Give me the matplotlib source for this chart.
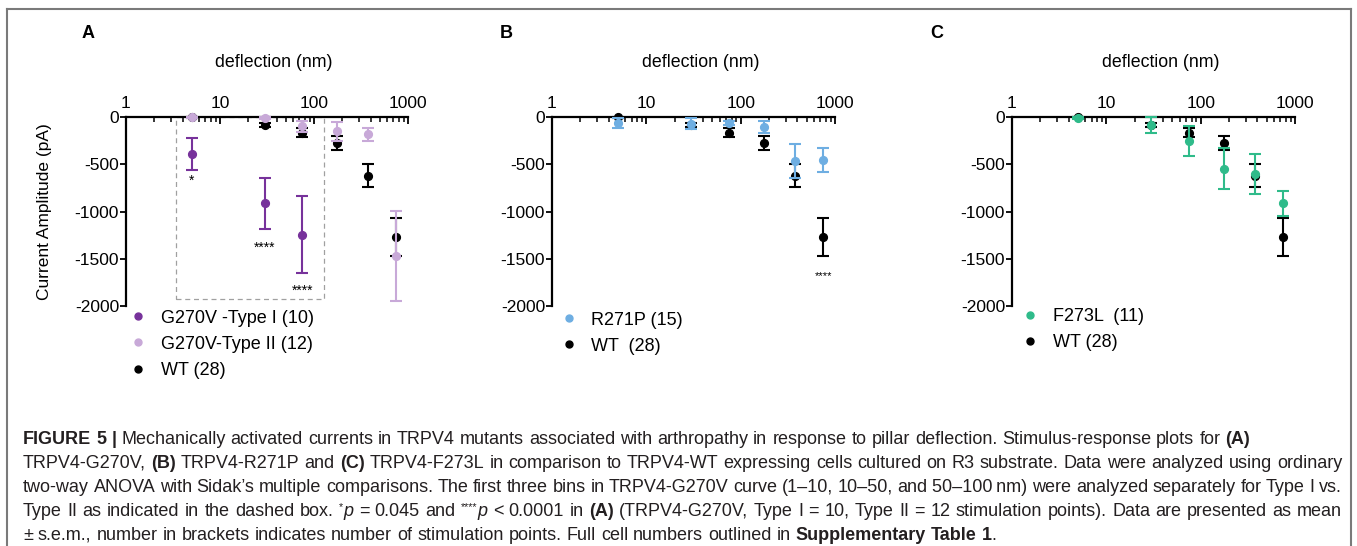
import matplotlib
matplotlib.use('Agg')
import matplotlib.pyplot as plt
from matplotlib.lines import Line2D
from matplotlib.patches import Rectangle
from matplotlib.ticker import LogLocator, NullFormatter
from matplotlib import font_manager

# ---- data ----
deflection = [5, 30, 75, 175, 375, 750]

wt_mean = [-5, -85, -165, -275, -620, -1270]
wt_sem = [10, 20, 50, 75, 120, 200]

g270v_t1_x = [5, 30, 75]
g270v_t1_mean = [-390, -915, -1245]
g270v_t1_sem = [170, 270, 405]

g270v_t2_mean = [-3, -8, -100, -150, -185, -1470]
g270v_t2_sem = [8, 8, 60, 100, 70, 480]

r271p_mean = [-65, -70, -63, -105, -470, -455]
r271p_sem = [55, 55, 20, 60, 180, 130]

f273l_mean = [-10, -85, -250, -545, -600, -915]
f273l_sem = [10, 80, 160, 215, 210, 135]

x_ticks = [1, 10, 100, 1000]
x_ticklabels = ['1', '10', '100', '1000']
y_ticks = [0, -500, -1000, -1500, -2000]
y_ticklabels = ['0', '-500', '-1000', '-1500', '-2000']

legend_a = ['G270V -Type I (10)', 'G270V-Type II (12)', 'WT (28)']
legend_b = ['R271P (15)', 'WT  (28)']
legend_c = ['F273L  (11)', 'WT (28)']

C_T1 = '#77329b'
C_T2 = '#c8a9d8'
C_R = '#6eaee2'
C_F = '#2fbb8a'
C_WT = 'black'

plt.rcParams['font.family'] = ['Liberation Sans', 'DejaVu Sans']
plt.rcParams['axes.unicode_minus'] = False

names = {f.name for f in font_manager.fontManager.ttflist}
cap_font = 'Liberation Sans Narrow' if 'Liberation Sans Narrow' in names else 'Liberation Sans'

W, H = 1357, 546
fig = plt.figure(figsize=(W / 100, H / 100), dpi=100)


def px_axes(left, right, top, bottom):
    return fig.add_axes([left / W, 1 - bottom / H, (right - left) / W, (bottom - top) / H])


def style_axes(ax):
    ax.set_xscale('log')
    ax.set_xlim(1, 1000)
    ax.set_ylim(-2000, 0)
    ax.xaxis.tick_top()
    ax.set_xticks(x_ticks, x_ticklabels)
    ax.xaxis.set_minor_locator(LogLocator(base=10, subs=range(2, 10)))
    ax.xaxis.set_minor_formatter(NullFormatter())
    ax.set_yticks(y_ticks, y_ticklabels)
    for s in ['bottom', 'right']:
        ax.spines[s].set_visible(False)
    for s in ['top', 'left']:
        ax.spines[s].set_linewidth(1.6)
    ax.tick_params(axis='x', which='major', direction='in', length=5, width=1.3, pad=4, labelsize=12.5)
    ax.tick_params(axis='x', which='minor', direction='in', length=3.5, width=1.1)
    ax.tick_params(axis='y', direction='out', length=4, width=1.3, pad=1, labelsize=12.5)
    ax.patch.set_visible(False)
    ax.text(0.525, 1.286, 'deflection (nm)', transform=ax.transAxes, ha='center', va='center', fontsize=12.8)


def ebar(ax, x, y, e, color, z):
    art = ax.errorbar(x, y, yerr=e, fmt='o', color=color, ms=5.6, elinewidth=1.5,
                      capsize=4, capthick=1.5, zorder=z)
    for a in art.get_children():
        a.set_clip_on(False)
    art[0].set_clip_on(False)


def dot(color):
    return Line2D([], [], ls='none', marker='o', ms=5, color=color)


def add_legend(ax, labels, colors, x, y):
    ax.legend([dot(c) for c in colors], labels, loc='upper left', bbox_to_anchor=(x, y),
              frameon=False, fontsize=13, handlelength=0.6, handletextpad=0.95,
              labelspacing=0.5, borderpad=0, borderaxespad=0)


# ---- panel A ----
axA = px_axes(126, 408, 117, 306)
style_axes(axA)
axA.add_patch(Rectangle((3.4, -1925), 128 - 3.4, 1925, fill=False, ls=(0, (4, 3)),
                        ec='#a0a0a0', lw=0.9, zorder=1))
ebar(axA, deflection, wt_mean, wt_sem, C_WT, 3)
ebar(axA, g270v_t1_x, g270v_t1_mean, g270v_t1_sem, C_T1, 4)
ebar(axA, deflection, g270v_t2_mean, g270v_t2_sem, C_T2, 5)
axA.text(5, -680, '*', ha='center', va='center', fontsize=10)
axA.text(30, -1380, '****', ha='center', va='center', fontsize=10)
axA.text(75, -1840, '****', ha='center', va='center', fontsize=10)
axA.set_ylabel('Current Amplitude (pA)', fontsize=12.5)
axA.yaxis.set_label_coords(-0.262, 0.5)
add_legend(axA, legend_a, [C_T1, C_T2, C_WT], 0.025, -0.02)

# ---- panel B ----
axB = px_axes(552, 835, 117, 306)
style_axes(axB)
ebar(axB, deflection, wt_mean, wt_sem, C_WT, 3)
ebar(axB, deflection, r271p_mean, r271p_sem, C_R, 4)
axB.text(750, -1680, '****', ha='center', va='center', fontsize=8)
add_legend(axB, legend_b, [C_R, C_WT], 0.04, -0.03)

# ---- panel C ----
axC = px_axes(1012, 1295, 117, 306)
style_axes(axC)
ebar(axC, deflection, wt_mean, wt_sem, C_WT, 3)
ebar(axC, deflection, f273l_mean, f273l_sem, C_F, 4)
add_legend(axC, legend_c, [C_F, C_WT], 0.045, -0.01)

# panel letters
for lx, letter in [(82, 'A'), (500, 'B'), (930, 'C')]:
    fig.text(lx / W, 1 - 33 / H, letter, fontsize=13, fontweight='bold', va='center', ha='left')

# outer frame (open at the bottom)
fr = dict(color='#7a7a7a', lw=1.5, transform=fig.transFigure)
fig.add_artist(Line2D([7 / W, 7 / W], [0, 1 - 9 / H], **fr))
fig.add_artist(Line2D([7 / W, 1351 / W], [1 - 9 / H, 1 - 9 / H], **fr))
fig.add_artist(Line2D([1351 / W, 1351 / W], [0, 1 - 9 / H], **fr))

# ---- caption ----
cap_lines = [
    [("FIGURE 5 |", 'b'), (" Mechanically activated currents in TRPV4 mutants associated with arthropathy in response to pillar deflection. Stimulus-response plots for ", 'n'), ("(A)", 'b')],
    [("TRPV4-G270V, ", 'n'), ("(B)", 'b'), (" TRPV4-R271P and ", 'n'), ("(C)", 'b'), (" TRPV4-F273L in comparison to TRPV4-WT expressing cells cultured on R3 substrate. Data were analyzed using ordinary", 'n')],
    [("two-way ANOVA with Sidak\u2019s multiple comparisons. The first three bins in TRPV4-G270V curve (1\u201310, 10\u201350, and 50\u2013100\u2009nm) were analyzed separately for Type I vs.", 'n')],
    [("Type II as indicated in the dashed box. ", 'n'), ("*", 's'), ("p", 'i'), (" = 0.045 and ", 'n'), ("****", 's'), ("p", 'i'), (" < 0.0001 in ", 'n'), ("(A)", 'b'), (" (TRPV4-G270V, Type I = 10, Type II = 12 stimulation points). Data are presented as mean", 'n')],
    [("\u00b1 s.e.m., number in brackets indicates number of stimulation points. Full cell numbers outlined in ", 'n'), ("Supplementary Table 1", 'b'), (".", 'n')],
]
cap_justify = [False, True, True, True, False]
cap_base = [444, 468, 492, 516, 540]
cap_x0, cap_x1 = 23, 1342
cap_fs = 13.0

renderer = fig.canvas.get_renderer()


def piece_kw(st):
    kw = dict(family=[cap_font, 'DejaVu Sans'], fontsize=cap_fs, color='#231f20')
    if st == 'b':
        kw['fontweight'] = 'bold'
    elif st == 'i':
        kw['fontstyle'] = 'italic'
    elif st == 's':
        kw['fontsize'] = cap_fs * 0.6
    return kw


def text_w(s, st):
    t = fig.text(0, 0, s, **piece_kw(st))
    w = t.get_window_extent(renderer).width
    t.remove()
    return w


space_w = text_w('a a', 'n') - text_w('aa', 'n')

for segs, just, yb in zip(cap_lines, cap_justify, cap_base):
    words = [[]]
    for txt, st in segs:
        parts = txt.split(' ')
        for i, p in enumerate(parts):
            if i > 0:
                words.append([])
            if p:
                words[-1].append((p, st))
    words = [w for w in words if w]
    widths = [[text_w(p, st) for p, st in w] for w in words]
    total = sum(sum(w) for w in widths)
    gap = space_w
    if just and len(words) > 1:
        gap = (cap_x1 - cap_x0 - total) / (len(words) - 1)
    x = cap_x0
    for w, ws in zip(words, widths):
        for (p, st), pw in zip(w, ws):
            dy = 6 if st == 's' else 0
            fig.text(x / W, 1 - (yb - dy) / H, p, va='baseline', ha='left', **piece_kw(st))
            x += pw
        x += gap

fig.savefig('out.png', dpi=100)
